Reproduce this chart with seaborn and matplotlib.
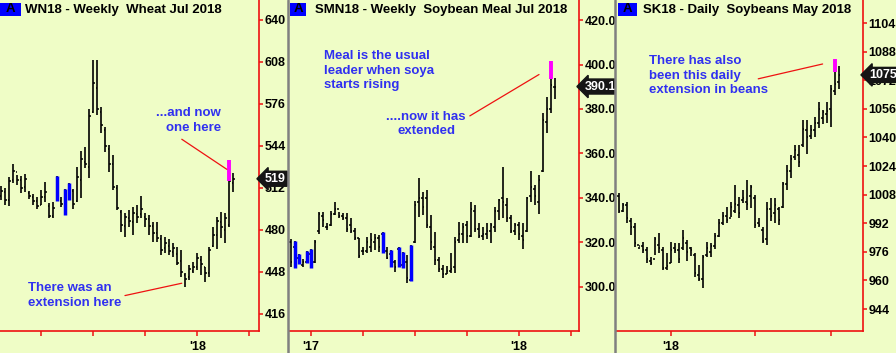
import numpy as np
import pandas as pd
import matplotlib
matplotlib.use("Agg")
import matplotlib.pyplot as plt
import matplotlib.transforms as mtransforms
from matplotlib.lines import Line2D
from matplotlib.patches import Rectangle
import seaborn as sns

# ---- Wheat Jul 2018, weekly (WN18) ----
trigo_alto = [513.5, 511.7, 520.6, 530.3, 521.9, 521.1, 522.7, 510.0, 507.4, 505.4,
              510.5, 516.8, 500.3, 501.6, 521.1, 505.4, 511.2, 516.1, 511.0, 528.2,
              540.4, 543.0, 571.9, 609.5, 609.5, 574.0, 558.2, 544.8, 537.1, 514.3,
              495.2, 493.2, 495.2, 497.8, 499.0, 506.1, 492.7, 491.4, 486.3, 486.3,
              476.2, 474.9, 473.1, 469.8, 467.3, 464.8, 447.0, 453.3, 455.9, 462.2,
              460.2, 452.1, 467.3, 482.5, 490.1, 493.5, 492.7, 533.3, 523.2]
trigo_bajo = [502.9, 499.0, 498.5, 515.6, 514.3, 508.4, 509.2, 503.4, 499.0, 495.7,
              499.0, 501.6, 489.4, 489.4, 502.3, 497.8, 491.7, 502.9, 495.7, 501.6,
              504.1, 527.0, 519.9, 568.9, 567.6, 553.6, 539.7, 524.4, 510.5, 495.2,
              478.7, 474.9, 482.5, 476.2, 485.1, 488.9, 482.5, 476.2, 471.1, 471.1,
              460.9, 462.2, 460.9, 459.7, 453.3, 444.4, 436.8, 441.9, 447.0, 449.5,
              445.7, 440.1, 444.4, 467.3, 465.3, 473.6, 470.3, 482.5, 509.2]
trigo_apertura = [506, 509, 503, 518, 524, 518, 513, 508, 505, 502, 499, 505, 498, 491, 505,
                  502, 500, 505, 510, 502, 518, 532, 528, 570, 588, 570, 556, 542, 530, 512,
                  494, 483, 489, 486, 492, 492, 490, 488, 483, 478, 473, 466, 468, 463, 462,
                  456, 446, 444, 449, 452, 457, 452, 447, 468, 476, 486, 480, 484, 516]
trigo_cierre = [510, 503, 517, 525, 518, 512, 519, 506, 502, 498, 505, 509, 491, 497, 515,
                500, 505, 512, 500, 520, 534, 530, 567, 592, 572, 560, 544, 530, 513, 497,
                484, 490, 487, 493, 490, 496, 488, 483, 478, 474, 465, 470, 464, 466, 455,
                448, 443, 450, 452, 459, 454, 447, 465, 476, 487, 482, 489, 517, 519]
trigo_azules = [14, 16, 17]
trigo_extension = (57, 517.6, 533.3)

# ---- Soybean Meal Jul 2018, weekly (SMN18) ----
harina_alto = [321.6, 320.8, 314.8, 312.4, 316.3, 316.9, 321.1, 333.9, 333.9, 328.6,
               334.3, 338.4, 333.9, 333.1, 333.1, 330.9, 326.4, 321.9, 318.1, 322.3,
               324.1, 323.8, 323.4, 324.9, 318.1, 316.6, 312.1, 318.1, 315.9, 314.4,
               318.9, 338.8, 348.9, 342.9, 343.6, 332.4, 324.9, 313.6, 309.9, 309.4,
               315.1, 322.6, 329.4, 328.6, 329.7, 338.4, 336.9, 328.9, 327.1, 328.9,
               328.6, 336.1, 339.4, 353.8, 339.9, 332.4, 328.6, 329.4, 328.6, 340.6,
               352.3, 345.8, 350.3, 378.1, 385.5, 401.6, 394.1]
harina_bajo = [309.1, 308.4, 310.2, 309.1, 310.6, 308.7, 310.6, 323.7, 327.1, 325.6,
               327.4, 332.4, 330.9, 330.1, 324.9, 324.1, 321.1, 312.9, 314.4, 315.1,
               315.9, 316.6, 315.9, 315.4, 312.4, 309.1, 306.9, 309.1, 308.4, 301.6,
               302.8, 319.6, 331.6, 332.4, 326.4, 316.6, 309.9, 306.9, 303.9, 305.8,
               306.1, 306.4, 319.6, 319.6, 319.9, 322.6, 324.9, 321.9, 321.1, 321.4,
               319.9, 324.9, 330.1, 330.9, 329.4, 324.1, 323.4, 321.1, 317.1, 324.9,
               338.4, 336.9, 332.7, 351.8, 369.1, 378.1, 384.5]
harina_apertura = [320, 318, 313, 310, 311, 315, 311, 325, 332, 327, 328, 333, 335, 332, 331,
                   328, 325, 322, 316, 316, 318, 320, 322, 324, 316, 315, 311, 317, 310, 311,
                   303, 320, 338, 340, 340, 327, 318, 312, 308, 306, 307, 309, 321, 324, 328,
                   323, 334, 326, 323, 324, 325, 327, 334, 340, 337, 331, 325, 328, 323, 325,
                   341, 344, 338, 352, 374, 380, 390]
harina_cierre = [311, 310, 311, 311, 315, 310, 320, 333, 330, 327, 333, 335, 332, 331, 326,
                 325, 322, 314, 316, 320, 321, 322, 318, 316, 313, 311, 309, 310, 314, 304,
                 318, 337, 340, 336, 328, 320, 312, 308, 306, 307, 308, 320, 324, 327, 323,
                 335, 326, 323, 324, 325, 328, 334, 339, 338, 331, 325, 328, 324, 321, 340,
                 345, 341, 348, 375, 380, 391, 390.1]
harina_azules = [1, 2, 4, 5, 23, 25, 27, 28, 30]
harina_extension = (65, 393.3, 401.6)

# ---- Soybeans May 2018, daily (SK18) ----
soja_alto = [1008.7, 1003.1, 1004.0, 994.7, 992.3, 978.9, 981.7, 978.9, 973.3, 984.5,
             986.7, 978.9, 975.1, 981.7, 981.1, 980.7, 988.2, 982.6, 978.9, 975.1,
             968.6, 974.2, 981.7, 981.1, 986.3, 994.2, 998.5, 1001.3, 1004.0, 1013.4,
             1006.8, 1010.6, 1016.2, 1013.4, 1007.8, 994.7, 990.1, 1004.0, 1005.9, 1005.9,
             1001.3, 1015.2, 1024.6, 1030.2, 1035.8, 1035.8, 1049.7, 1049.7, 1046.9, 1051.6,
             1060.0, 1055.3, 1060.0, 1069.3, 1083.7, 1080.0]
soja_bajo = [997.9, 998.5, 991.9, 985.4, 978.9, 977.4, 975.1, 969.6, 968.6, 974.2,
             975.1, 965.8, 965.8, 969.9, 975.1, 969.9, 977.0, 971.0, 973.7, 962.1,
             959.9, 955.6, 973.3, 972.9, 977.4, 984.5, 991.0, 991.9, 995.7, 997.5,
             995.1, 1003.1, 999.4, 1000.3, 989.1, 990.1, 981.1, 979.8, 993.4, 991.9,
             991.0, 1000.3, 1010.6, 1017.1, 1027.4, 1023.3, 1034.8, 1030.7, 1038.9, 1040.4,
             1045.1, 1047.5, 1047.9, 1045.6, 1063.7, 1067.1]
soja_apertura = [1007, 999, 1002, 993, 990, 980, 979, 977, 971, 972, 980, 977, 967, 970,
                 978, 977, 978, 981, 978, 974, 963, 961, 974, 976, 979, 985, 992, 996,
                 995, 999, 1002, 1005, 1004, 1007, 1006, 992, 988, 983, 1000, 998, 1000,
                 1001, 1014, 1021, 1029, 1030, 1036, 1044, 1041, 1044, 1048, 1051, 1053,
                 1056, 1066, 1071]
soja_cierre = [999, 1002, 995, 990, 981, 979, 977, 972, 970, 983, 978, 967, 968, 977,
               977, 972, 984, 976, 977, 964, 961, 973, 978, 979, 985, 992, 996, 994,
               1001, 1003, 998, 1006, 1003, 1012, 991, 991, 982, 1000, 996, 1002, 994,
               1014, 1021, 1028, 1033, 1026, 1045, 1040, 1044, 1048, 1056, 1054, 1055,
               1067, 1070, 1075]
soja_extension = (54, 1076.8, 1083.7)

fondo = "#effdc6"
rojo = "#ee1111"
azul_texto = "#3030f0"

sns.set_theme(style="white", rc={"axes.facecolor": fondo, "figure.facecolor": fondo})
plt.rcParams['font.family'] = ['Liberation Sans', 'DejaVu Sans']
plt.rcParams['font.weight'] = 'bold'

W, H = 896, 353
fig = plt.figure(figsize=(W / 100, H / 100), dpi=100)


def caja(px0, px1):
    return [px0 / W, 22 / H, (px1 - px0) / W, 331 / H]


def dibujar_barras(ax, df, azules, ext):
    ax.vlines(df.x, df.bajo, df.alto, color="black", lw=1.2)
    ax.hlines(df.apertura, df.x - 0.45, df.x, color="black", lw=1.1)
    ax.hlines(df.cierre, df.x, df.x + 0.45, color="black", lw=1.1)
    if azules:
        sub = df.iloc[azules]
        ax.vlines(sub.x, sub.bajo, sub.alto, color="#0000ff", lw=2.5)
    i, lo, hi = ext
    ax.vlines(df.x.iloc[i], lo, hi, color="#ff00ff", lw=2.8)


def estilo(ax, yticks, fmt, xticks, xlabels, xlim, ylim):
    ax.set_xlim(*xlim)
    ax.set_ylim(*ylim)
    sns.despine(ax=ax, left=True, top=True, right=False, bottom=False)
    for s in ("right", "bottom"):
        ax.spines[s].set_color(rojo)
        ax.spines[s].set_linewidth(1.2)
    ax.yaxis.tick_right()
    ax.set_yticks(yticks)
    ax.set_yticklabels([fmt.format(v) for v in yticks])
    ax.set_xticks(xticks)
    ax.set_xticklabels(xlabels)
    ax.tick_params(axis="y", colors=rojo, labelcolor="black", length=3, width=1.1,
                   pad=0.8, labelsize=9, right=True)
    ax.tick_params(axis="x", colors=rojo, labelcolor="black", length=3.5, width=1.1,
                   pad=4, labelsize=9, bottom=True)
    for lab in ax.get_xticklabels() + ax.get_yticklabels():
        lab.set_fontweight("bold")
    ax.set_xlabel("")
    ax.set_ylabel("")


def etiqueta_precio(ax, valor, texto):
    trans = mtransforms.blended_transform_factory(ax.transAxes, ax.transData)
    trans = mtransforms.offset_copy(trans, fig=fig, x=4.2, y=0, units="points")
    ax.text(1.0, valor, texto, transform=trans, ha="left", va="center", color="white",
            fontsize=9, fontweight="bold", clip_on=False, zorder=5,
            bbox=dict(boxstyle="larrow,pad=0.12", fc="#151515", ec="#151515"))


def cabecera(px0, px1, txt_px, titulo):
    fig.add_artist(Rectangle((px0 / W, 1 - 15.5 / H), (px1 - px0) / W, 12.8 / H,
                             transform=fig.transFigure, fc="#0000ff", ec="none"))
    fig.text((px0 + px1) / 2 / W, 1 - 9.3 / H, "A", ha="center", va="center",
             fontsize=9.5, fontweight="bold", color="black")
    fig.text(txt_px / W, 1 - 9.5 / H, titulo, ha="left", va="center", fontsize=9.5,
             fontweight="bold", color="black")


paneles = [
    (trigo_apertura, trigo_alto, trigo_bajo, trigo_cierre),
    (harina_apertura, harina_alto, harina_bajo, harina_cierre),
    (soja_apertura, soja_alto, soja_bajo, soja_cierre),
]
dfs = []
for o, h, l, c in paneles:
    dfs.append(pd.DataFrame({"x": np.arange(len(o)), "apertura": o, "alto": h,
                             "bajo": l, "cierre": c}))

nota = dict(color=azul_texto, fontsize=9.5, fontweight="bold", linespacing=1.3)

# Panel 1: wheat
ax1 = fig.add_axes(caja(0, 259))
dibujar_barras(ax1, dfs[0], trigo_azules, trigo_extension)
estilo(ax1, np.arange(416, 641, 32), "{:.0f}", [10, 23, 36, 49, 62],
       ["", "", "", "'18", ""], (-0.33, 64.4), (403.0, 655.2))
etiqueta_precio(ax1, trigo_cierre[-1], "519")
ax1.text(54.9, 563.4, "...and now\none here", ha="right", va="center",
         multialignment="right", **nota)
ax1.text(6.6, 430.1, "There was an\nextension here", ha="left", va="center", **nota)
ax1.plot([45.1, 56.35], [549.1, 526.2], color=rojo, lw=0.9)
ax1.plot([30.9, 45.1], [430.0, 439.4], color=rojo, lw=0.9)

# Panel 2: soybean meal
ax2 = fig.add_axes(caja(289, 579))
dibujar_barras(ax2, dfs[1], harina_azules, harina_extension)
estilo(ax2, np.arange(300, 421, 20), "{:.1f}", [5, 18, 31, 44, 57, 70],
       ["'17", "", "", "", "'18", ""], (-0.42, 72.1), (280.2, 429.0))
etiqueta_precio(ax2, harina_cierre[-1], "390.1")
ax2.text(8.4, 397.2, "Meal is the usual\nleader when soya\nstarts rising", ha="left",
         va="center", **nota)
ax2.text(43.8, 373.3, "....now it has\nextended", ha="right", va="center",
         multialignment="center", **nota)
ax2.plot([44.8, 62.1], [376.9, 395.5], color=rojo, lw=0.9)

# Panel 3: soybeans daily
ax3 = fig.add_axes(caja(616, 863))
dibujar_barras(ax3, dfs[2], [], soja_extension)
estilo(ax3, np.arange(944, 1105, 16), "{:.0f}", [13, 34, 53],
       ["'18", "", ""], (-0.67, 61.1), (931.7, 1116.9))
etiqueta_precio(ax3, soja_cierre[-1], "1075")
ax3.text(7.6, 1074.5, "There has also\nbeen this daily\nextension in beans", ha="left",
         va="center", **nota)
ax3.plot([34.9, 51.0], [1072.8, 1081.1], color=rojo, lw=0.9)

cabecera(0, 20.7, 25, "WN18 - Weekly  Wheat Jul 2018")
cabecera(290, 306, 315, "SMN18 - Weekly  Soybean Meal Jul 2018")
cabecera(618, 637, 643, "SK18 - Daily  Soybeans May 2018")

# separators between the panels
for px in (288, 615):
    fig.add_artist(Line2D([px / W, px / W], [0, 1], color="#808080", lw=1.8))

fig.savefig("out.png", dpi=100, facecolor=fondo)
